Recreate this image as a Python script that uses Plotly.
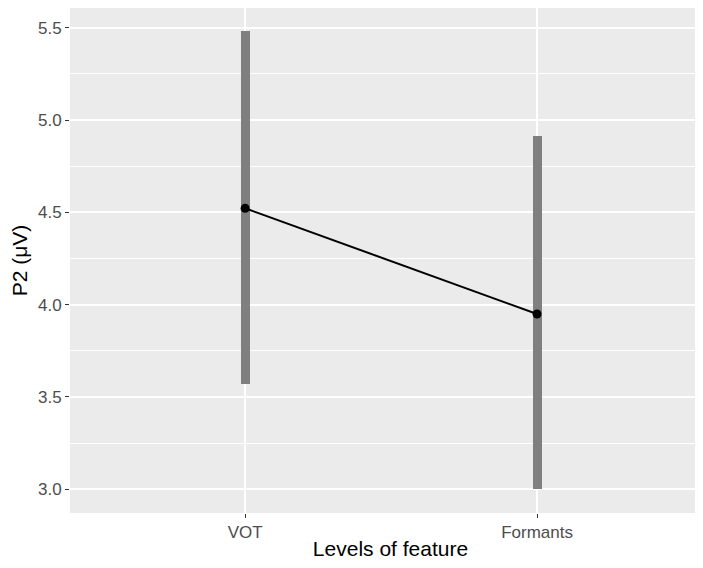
import plotly.graph_objects as go

levels = ["VOT", "Formants"]
means = [4.522, 3.949]
lower = [3.569, 3.0]
upper = [5.483, 4.912]
tick_vals = [3.0, 3.5, 4.0, 4.5, 5.0, 5.5]
tick_text = ["3.0", "3.5", "4.0", "4.5", "5.0", "5.5"]

fig = go.Figure()
fig.add_trace(go.Bar(
    x=levels,
    base=lower,
    y=[u - l for u, l in zip(upper, lower)],
    width=0.031,
    marker=dict(color="#7f7f7f", line=dict(width=0)),
    showlegend=False,
    hoverinfo="skip",
))
fig.add_trace(go.Scatter(
    x=levels, y=means, mode="lines+markers",
    line=dict(color="black", width=2),
    marker=dict(color="black", size=9),
    showlegend=False,
))

font = "Liberation Sans, Arial, Helvetica, sans-serif"
fig.update_layout(
    width=703, height=552,
    margin=dict(l=62, r=0, t=0, b=47, pad=0),
    paper_bgcolor="white",
    plot_bgcolor="#EBEBEB",
    font=dict(family=font),
    bargap=0,
)
fig.update_xaxes(
    type="category",
    range=[-0.6, 1.596],
    showgrid=True, gridcolor="white", gridwidth=2,
    zeroline=False, showline=False,
    ticks="outside", ticklen=4, tickwidth=1, tickcolor="#333333",
    tickfont=dict(size=17, color="#4D4D4D", family=font),
    title=dict(text="Levels of feature", font=dict(size=21, color="black", family=font), standoff=2),
)
fig.update_yaxes(
    range=[2.871, 5.607],
    tickvals=tick_vals, ticktext=tick_text,
    showgrid=True, gridcolor="white", gridwidth=2,
    minor=dict(dtick=0.25, tick0=2.75, showgrid=True, gridcolor="white", gridwidth=1, ticks=""),
    zeroline=False, showline=False,
    ticks="outside", ticklen=4, tickwidth=1, tickcolor="#333333",
    tickfont=dict(size=17, color="#4D4D4D", family=font),
    title=dict(text="P2 (μV)", font=dict(size=21, color="black", family=font), standoff=4),
)

fig.write_html("out.html")
